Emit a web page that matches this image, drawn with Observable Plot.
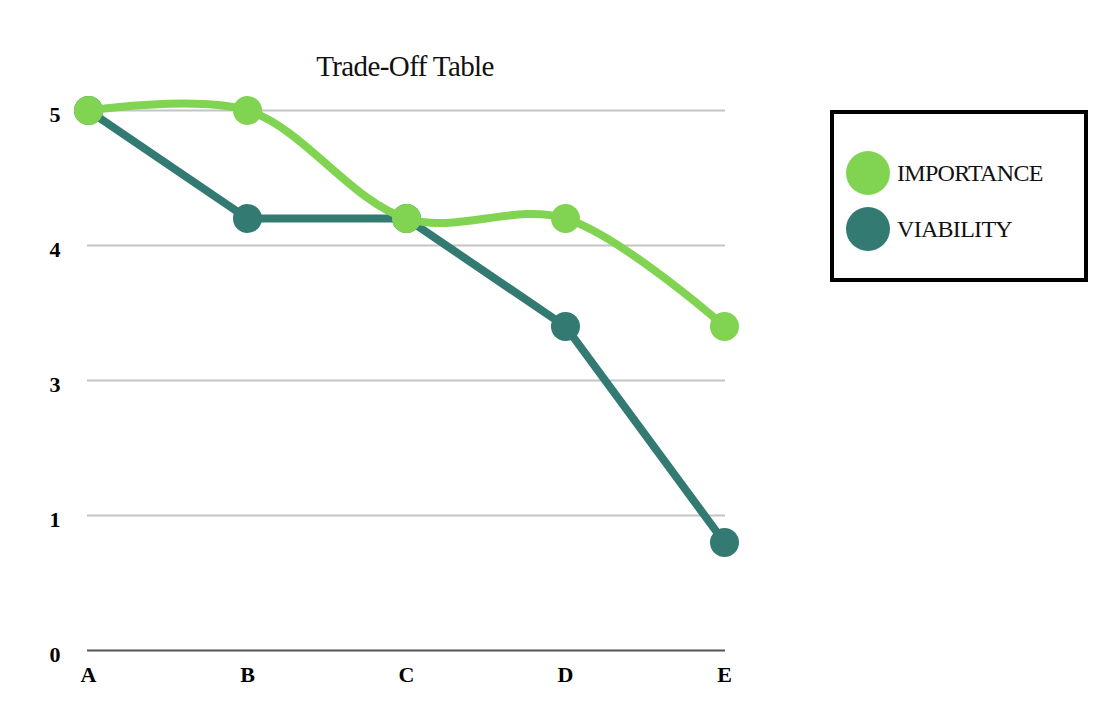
<!DOCTYPE html>
<html>
<head>
<meta charset="utf-8">
<script src="https://cdn.jsdelivr.net/npm/d3@7"></script>
<script src="https://cdn.jsdelivr.net/npm/@observablehq/plot@0.6"></script>
<style>
  html, body { margin: 0; padding: 0; background: #fff; }
  #wrap { position: relative; width: 1118px; height: 726px; overflow: hidden; font-family: "Liberation Serif", "DejaVu Serif", serif; }
  #title { position: absolute; left: 0; top: 48px; width: 810px; text-align: center; font-size: 29px; letter-spacing: -0.6px; color: #111; line-height: 36px; }
  #chart { position: absolute; left: 0; top: 0; }
  #legend { position: absolute; left: 830px; top: 110px; width: 258px; height: 172px; box-sizing: border-box; border: 4px solid #000; background: #fff; }
  .item { position: absolute; left: 12px; height: 44px; display: flex; align-items: center; }
  .dot { width: 44px; height: 44px; border-radius: 50%; margin-right: 7px; }
  .lab { font-size: 24px; letter-spacing: -0.7px; color: #111; }
</style>
</head>
<body>
<div id="wrap">
  <div id="chart"></div>
  <div id="title">Trade-Off Table</div>
  <div id="legend"></div>
</div>
<script>
// ---- data ----
const categories = ["A", "B", "C", "D", "E"];
const importance = [5, 5, 4.2, 4.2, 3.4];
const viability = [5, 4.2, 4.2, 3.4, 0.8];
const yTicks = [0, 1, 3, 4, 5];
const seriesNames = ["IMPORTANCE", "VIABILITY"];
const seriesColors = ["#80d451", "#337a72"];

const impRows = categories.map((c, i) => ({cat: c, value: importance[i]}));
const viaRows = categories.map((c, i) => ({cat: c, value: viability[i]}));

// the reference axis places ticks 0,1,3,4,5 at equal spacing (piecewise linear)
const warp = v => v <= 1 ? v : v <= 3 ? 1 + (v - 1) / 2 : v - 1;

const chart = Plot.plot({
  width: 1118,
  height: 726,
  marginLeft: 87,
  marginRight: 393,
  marginTop: 110,
  marginBottom: 76,
  style: {background: "transparent", color: "#000", fontFamily: "'Liberation Serif', serif", overflow: "visible"},
  x: {type: "point", domain: categories, padding: 0},
  y: {transform: warp, domain: [0, 4], axis: null},
  marks: [
    Plot.ruleY(yTicks.filter(d => d > 0), {stroke: "#c4c4c4", strokeWidth: 2}),
    Plot.ruleY([0], {stroke: "#555", strokeWidth: 2}),
    Plot.text(yTicks, {y: d => d, text: d => String(d), frameAnchor: "left", textAnchor: "end", dx: -27, dy: 4, fontSize: 22, fontWeight: "bold", fill: "#000"}),
    Plot.axisX({tickSize: 0, tickPadding: 16, fontSize: 22, fontWeight: "bold", label: null}),
    Plot.line(viaRows, {x: "cat", y: "value", stroke: seriesColors[1], strokeWidth: 8, curve: "linear"}),
    Plot.dot(viaRows, {x: "cat", y: "value", r: 14.5, fill: seriesColors[1]}),
    Plot.line(impRows, {x: "cat", y: "value", stroke: seriesColors[0], strokeWidth: 8, curve: "catmull-rom"}),
    Plot.dot(impRows, {x: "cat", y: "value", r: 14.5, fill: seriesColors[0]})
  ]
});
document.getElementById("chart").appendChild(chart);

// legend
const legend = document.getElementById("legend");
const tops = [37, 93];
seriesNames.forEach((name, i) => {
  const item = document.createElement("div");
  item.className = "item";
  item.style.top = tops[i] + "px";
  const dot = document.createElement("div");
  dot.className = "dot";
  dot.style.background = seriesColors[i];
  const lab = document.createElement("span");
  lab.className = "lab";
  lab.textContent = name;
  item.appendChild(dot);
  item.appendChild(lab);
  legend.appendChild(item);
});
</script>
</body>
</html>
